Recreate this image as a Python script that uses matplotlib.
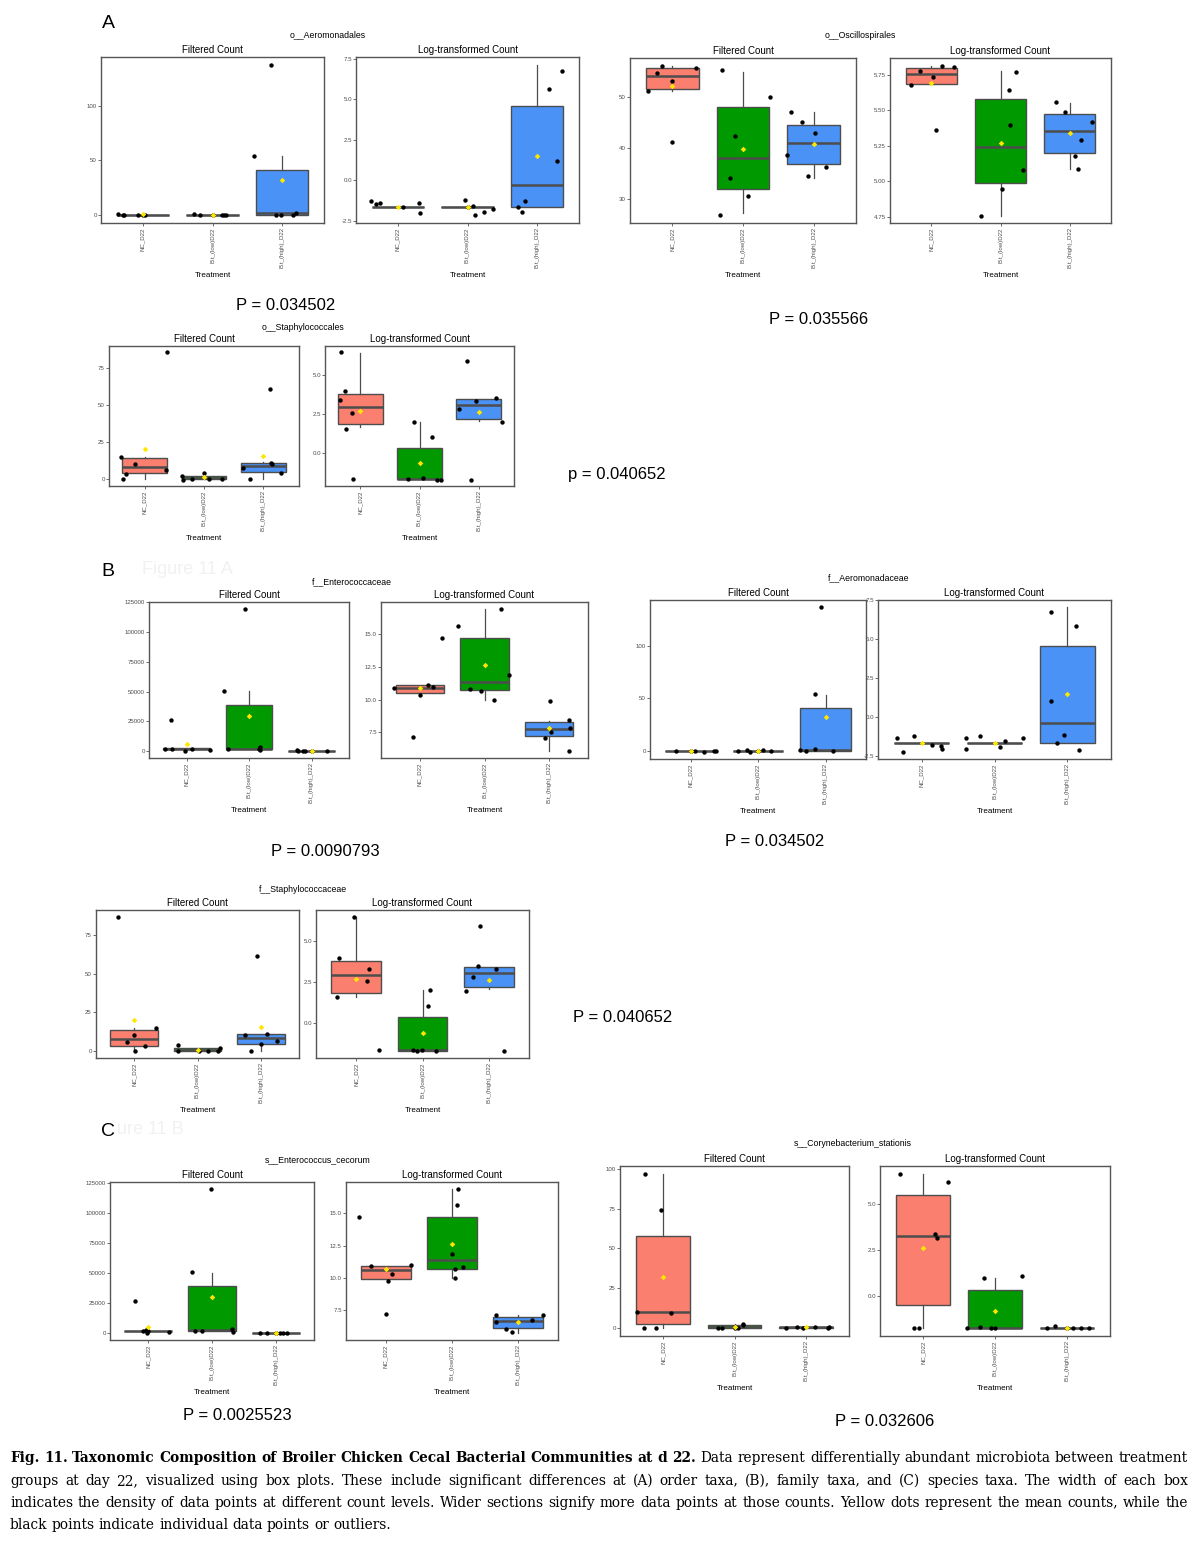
import matplotlib
matplotlib.use('Agg')
import matplotlib.pyplot as plt

W, H = 1200, 1542

# treatment groups, shared by every panel
treatments = ['NC_D22', 'B.t_(low)D22', 'B.t_(high)_D22']
fills = ['#FA7F6F', '#009900', '#4A92F5']

taxa = ['o__Aeromonadales', 'o__Oscillospirales', 'o__Staphylococcales',
        'f__Enterococcaceae', 'f__Aeromonadaceae', 'f__Staphylococcaceae',
        's__Enterococcus_cecorum', 's__Corynebacterium_stationis']
p_values = ['P = 0.034502', 'P = 0.035566', 'p = 0.040652', 'P = 0.0090793',
            'P = 0.034502', 'P = 0.040652', 'P = 0.0025523', 'P = 0.032606']

# box stats per treatment: [whisker low, q1, median, q3, whisker high]
# pts = jittered sample values, jit = horizontal jitter (category units)

# o__Aeromonadales
aeromonadales_raw_box = [[0, 0, 0, 0, 0], [0, 0, 0, 0, 0], [0, 0, 1.2, 40.7, 53.9]]
aeromonadales_raw_mean = [0.3, 0.2, 32.1]
aeromonadales_raw_pts = [[0.6, -0.3, 0.0, 0.0, 0.0, 0.0],
                         [0.6, -0.2, -0.6, -0.4, 0.0, 0.0],
                         [53.9, 137.8, 0.0, 0.0, 0.0, 1.2]]
aeromonadales_raw_jit = [[-0.35, -0.29, -0.27, -0.07, 0.0, 0.03],
                         [-0.26, -0.18, 0.14, 0.16, 0.2, 0.0],
                         [-0.40, -0.16, -0.09, -0.01, 0.15, 0.2]]
aeromonadales_raw_ticks = ['0', '50', '100']
aeromonadales_log_box = [[-1.68] * 5, [-1.68] * 5, [-1.68, -1.68, -0.33, 4.58, 7.13]]
aeromonadales_log_mean = [-1.68, -1.68, 1.48]
aeromonadales_log_pts = [[-1.29, -1.48, -1.40, -1.68, -1.42, -2.03],
                         [-1.21, -1.62, -2.18, -1.95, -1.77, -1.68],
                         [-1.64, -1.99, -1.27, 5.63, 1.19, 6.76]]
aeromonadales_log_jit = [[-0.39, -0.31, -0.26, 0.07, 0.30, 0.32],
                         [-0.04, 0.08, 0.11, 0.24, 0.36, 0.0],
                         [-0.28, -0.22, -0.17, 0.17, 0.29, 0.35]]
aeromonadales_log_ticks = ['-2.5', '0.0', '2.5', '5.0', '7.5']

# o__Oscillospirales
oscillospirales_raw_box = [[51.1, 51.4, 54.0, 55.7, 56.0], [27.1, 31.8, 38.0, 48.0, 54.9],
                           [34.0, 36.7, 40.9, 44.5, 46.9]]
oscillospirales_raw_mean = [52.0, 39.8, 40.7]
oscillospirales_raw_pts = [[51.2, 54.7, 56.1, 53.0, 41.1, 55.7],
                           [55.2, 34.1, 42.2, 30.6, 26.7, 49.9],
                           [46.9, 45.0, 38.6, 42.8, 34.4, 36.3]]
oscillospirales_raw_jit = [[-0.34, -0.22, -0.15, -0.01, 0.0, 0.33],
                           [-0.30, -0.18, -0.11, 0.07, -0.32, 0.38],
                           [-0.32, -0.17, -0.38, 0.02, -0.08, 0.18]]
oscillospirales_raw_ticks = ['30', '40', '50']
oscillospirales_log_box = [[5.684, 5.684, 5.757, 5.799, 5.81], [4.76, 4.989, 5.242, 5.579, 5.78],
                           [5.09, 5.20, 5.354, 5.474, 5.553]]
oscillospirales_log_mean = [5.69, 5.27, 5.338]
oscillospirales_log_pts = [[5.68, 5.78, 5.736, 5.816, 5.804, 5.359],
                           [4.76, 4.95, 5.647, 5.399, 5.773, 5.083],
                           [5.56, 5.488, 5.176, 5.085, 5.289, 5.417]]
oscillospirales_log_jit = [[-0.29, -0.16, 0.02, 0.16, 0.33, 0.07],
                           [-0.28, 0.025, 0.12, 0.135, 0.225, 0.33],
                           [-0.195, -0.065, 0.085, 0.12, 0.165, 0.33]]
oscillospirales_log_ticks = ['4.75', '5.00', '5.25', '5.50', '5.75']

# o__Staphylococcales
staphylococcales_raw_box = [[0, 3.6, 8.2, 13.9, 15.0], [0, 0, 0.4, 1.8, 2.0], [0, 4.3, 8.6, 10.9, 11.4]]
staphylococcales_raw_mean = [20.0, 1.2, 15.5]
staphylococcales_raw_pts = [[14.8, -0.5, 3.0, 9.8, 85.9, 5.7],
                            [2.0, -0.7, -0.5, 3.9, -0.5, -0.5],
                            [7.5, 0.0, 61.1, 10.5, 10.0, 3.9]]
staphylococcales_raw_jit = [[-0.39, -0.37, -0.31, -0.17, 0.37, 0.36],
                            [-0.37, -0.35, -0.2, 0.0, 0.09, 0.3],
                            [-0.35, -0.22, 0.11, 0.12, 0.15, 0.30]]
staphylococcales_raw_ticks = ['0', '25', '50', '75']
staphylococcales_log_box = [[1.65, 1.84, 2.97, 3.76, 6.43], [-1.65, -1.65, -1.62, 0.36, 2.0],
                            [2.07, 2.2, 3.06, 3.44, 3.44]]
staphylococcales_log_mean = [2.71, -0.6, 2.65]
staphylococcales_log_pts = [[6.45, 3.38, 3.97, 1.56, 2.59, -1.65],
                            [2.0, 1.03, -1.67, -1.6, -1.69, -1.69],
                            [5.9, 2.84, 3.33, 3.5, 1.99, -1.69]]
staphylococcales_log_jit = [[-0.33, -0.35, -0.26, -0.24, -0.14, -0.13],
                            [-0.1, 0.22, -0.19, 0.06, 0.3, 0.36],
                            [-0.19, -0.33, -0.04, 0.29, 0.4, -0.13]]
staphylococcales_log_ticks = ['0.0', '2.5', '5.0']

# f__Enterococcaceae
enterococcaceae_raw_box = [[850, 1700, 2000, 2300, 2300], [1400, 1400, 2000, 39000, 50500],
                           [0, 0, 100, 300, 700]]
enterococcaceae_raw_mean = [5600, 29600, 200]
enterococcaceae_raw_pts = [[2000, 2000, 0, 2000, 850, 26400],
                           [50500, 1700, 119400, 3650, 850, 1700],
                           [850, 0, 0, 0, 0, 0]]
enterococcaceae_raw_jit = [[-0.34, -0.24, -0.03, 0.08, 0.37, -0.25],
                           [-0.4, -0.33, -0.07, 0.17, 0.17, 0.16],
                           [-0.23, -0.22, -0.14, -0.10, 0.25, 0.0]]
enterococcaceae_raw_ticks = ['0', '25000', '50000', '75000', '100000', '125000']
enterococcaceae_log_box = [[10.46, 10.46, 10.84, 11.07, 11.07], [9.97, 10.69, 11.35, 14.7, 16.85],
                           [6.12, 7.25, 7.74, 8.27, 8.4]]
enterococcaceae_log_mean = [10.89, 12.61, 7.82]
enterococcaceae_log_pts = [[10.91, 7.16, 10.33, 11.07, 10.96, 14.7],
                           [15.63, 10.81, 10.63, 9.95, 16.88, 11.83],
                           [7.11, 7.56, 8.43, 7.87, 6.09, 9.85]]
enterococcaceae_log_jit = [[-0.4, -0.1, 0.0, 0.13, 0.2, 0.34],
                           [-0.41, -0.23, -0.05, 0.14, 0.25, 0.38],
                           [-0.07, 0.03, 0.3, 0.32, 0.31, 0.02]]
enterococcaceae_log_ticks = ['7.5', '10.0', '12.5', '15.0']

# f__Aeromonadaceae
aeromonadaceae_raw_box = [[0] * 5, [0] * 5, [0, 0, 1.0, 41.1, 53.5]]
aeromonadaceae_raw_mean = [0.2, 0.3, 32.0]
aeromonadaceae_raw_pts = [[0.0, -0.3, -0.9, -0.3, -0.3, 0.0],
                          [-0.6, 0.6, -0.9, 0.6, -0.3, 0.0],
                          [0.6, 0.3, 1.3, 0.0, 54.1, 137.0]]
aeromonadaceae_raw_jit = [[-0.22, 0.07, 0.2, 0.35, 0.38, 0.0],
                          [-0.3, -0.17, -0.12, 0.08, 0.19, 0.0],
                          [-0.38, -0.29, -0.16, 0.11, -0.15, -0.07]]
aeromonadaceae_raw_ticks = ['0', '50', '100']
aeromonadaceae_log_box = [[-1.66] * 5, [-1.66] * 5, [-1.66, -1.66, -0.34, 4.53, 7.04]]
aeromonadaceae_log_mean = [-1.66, -1.66, 1.47]
aeromonadaceae_log_pts = [[-1.32, -2.21, -1.17, -1.79, -1.83, -2.02],
                          [-1.34, -2.02, -1.19, -1.91, -1.51, -1.30],
                          [6.74, 1.06, -1.64, -1.15, 5.81, -2.09]]
aeromonadaceae_log_jit = [[-0.34, -0.25, -0.11, 0.14, 0.27, 0.28],
                          [-0.39, -0.39, -0.2, 0.08, 0.15, 0.39],
                          [-0.23, -0.23, -0.14, -0.04, 0.12, 0.16]]
aeromonadaceae_log_ticks = ['-2.5', '0.0', '2.5', '5.0', '7.5']

# f__Staphylococcaceae
staphylococcaceae_raw_box = [[0, 3.6, 7.9, 13.7, 14.7], [0, 0, 0.5, 2.0, 2.3], [0, 4.5, 8.8, 10.9, 10.9]]
staphylococcaceae_raw_mean = [20.1, 1.1, 15.8]
staphylococcaceae_raw_pts = [[86.5, 5.8, 10.5, 0.0, 3.4, 15.0],
                             [4.3, 0.0, 0.0, 0.0, 0.0, 2.3],
                             [10.5, 0.0, 61.1, 4.5, 10.9, 6.8]]
staphylococcaceae_raw_jit = [[-0.26, -0.11, 0.0, 0.02, 0.18, 0.34],
                             [-0.3, -0.3, 0.03, 0.17, 0.32, 0.35],
                             [-0.25, -0.15, -0.06, 0.0, 0.1, 0.26]]
staphylococcaceae_raw_ticks = ['0', '25', '50', '75']
staphylococcaceae_log_box = [[1.61, 1.83, 2.96, 3.79, 6.47], [-1.67, -1.67, -1.64, 0.36, 2.02],
                             [2.08, 2.2, 3.06, 3.43, 3.43]]
staphylococcaceae_log_mean = [2.7, -0.58, 2.66]
staphylococcaceae_log_pts = [[1.59, 3.95, 6.47, 2.56, 3.29, -1.63],
                             [-1.61, -1.69, -1.61, -1.69, 1.05, 2.02],
                             [1.96, 2.8, 3.47, 5.89, 3.31, -1.67]]
staphylococcaceae_log_jit = [[-0.28, -0.26, -0.03, 0.16, 0.19, 0.34],
                             [-0.15, -0.08, -0.01, 0.2, 0.08, 0.11],
                             [-0.35, -0.24, -0.16, -0.13, 0.11, 0.23]]
staphylococcaceae_log_ticks = ['0.0', '2.5', '5.0']

# s__Enterococcus_cecorum
cecorum_raw_box = [[550, 1200, 1500, 1800, 1800], [1380, 1380, 2480, 38900, 50000], [0, 0, 0, 100, 100]]
cecorum_raw_mean = [5240, 29500, 0]
cecorum_raw_pts = [[26200, 1100, 2200, 0, 550, 1500],
                   [50200, 1400, 1400, 119500, 3300, 550],
                   [0, 0, 0, 0, 0, 0]]
cecorum_raw_jit = [[-0.21, -0.09, -0.04, -0.02, 0.32, 0.0],
                   [-0.32, -0.26, -0.15, -0.01, 0.32, 0.33],
                   [-0.25, -0.13, 0.06, 0.12, 0.18, 0.0]]
cecorum_raw_ticks = ['0', '25000', '50000', '75000', '100000', '125000']
cecorum_log_box = [[9.87, 9.87, 10.57, 10.95, 10.95], [10.0, 10.7, 11.34, 14.69, 16.88],
                   [5.72, 6.08, 6.62, 6.96, 7.09]]
cecorum_log_mean = [10.64, 12.6, 6.55]
cecorum_log_pts = [[14.69, 10.9, 7.16, 9.74, 10.26, 11.0],
                   [15.64, 16.88, 11.86, 10.67, 9.95, 10.82],
                   [7.11, 6.57, 5.98, 5.75, 6.73, 7.09]]
cecorum_log_jit = [[-0.41, -0.23, 0.0, 0.04, 0.1, 0.38],
                   [0.07, 0.09, 0.0, 0.05, 0.04, 0.16],
                   [-0.34, -0.34, -0.18, -0.1, 0.2, 0.38]]
cecorum_log_ticks = ['7.5', '10.0', '12.5', '15.0']

# s__Corynebacterium_stationis
stationis_raw_box = [[0, 2.3, 9.6, 57.9, 96.9], [0, 0, 0.4, 1.5, 2.0], [0, 0, 0.1, 0.2, 0.4]]
stationis_raw_mean = [31.7, 0.6, 0.1]
stationis_raw_pts = [[9.9, -0.4, 96.9, 0.0, 73.8, 9.2],
                     [-0.4, -0.2, 0.0, 2.1, 1.7, 0.0],
                     [0.0, 0.4, -0.4, 0.4, -0.2, 0.4]]
stationis_raw_jit = [[-0.36, -0.27, -0.25, -0.10, -0.03, 0.11],
                     [-0.23, -0.17, 0.0, 0.12, 0.12, 0.05],
                     [-0.28, -0.13, -0.04, 0.13, 0.30, 0.32]]
stationis_raw_ticks = ['0', '25', '50', '75', '100']
stationis_log_box = [[-1.69, -0.47, 3.26, 5.49, 6.6], [-1.69, -1.69, -1.69, 0.34, 1.0], [-1.69] * 5]
stationis_log_mean = [2.64, -0.79, -1.69]
stationis_log_pts = [[6.64, -1.69, -1.69, 3.36, 3.18, 6.2],
                     [-1.69, -1.64, -1.73, 1.0, 1.1, -1.69],
                     [-1.69, -1.62, -1.69, -1.69, -1.69, -1.69]]
stationis_log_jit = [[-0.32, -0.12, -0.06, 0.16, 0.19, 0.35],
                     [-0.39, -0.21, -0.06, -0.15, 0.37, 0.0],
                     [-0.27, -0.16, 0.09, 0.2, 0.31, 0.0]]
stationis_log_ticks = ['0.0', '2.5', '5.0']

caption_bold = 'Fig. 11.  Taxonomic Composition of Broiler Chicken Cecal Bacterial Communities at d 22.'
caption_lines = [
    'Data represent differentially abundant microbiota between treatment',
    'groups at day 22, visualized using box plots. These include significant differences at (A) order taxa, '
    '(B), family taxa, and (C) species taxa. The width of each box',
    'indicates the density of data points at different count levels. Wider sections signify more data points '
    'at those counts. Yellow dots represent the mean counts, while the',
    'black points indicate individual data points or outliers.',
]

panels = [
    (aeromonadales_raw_box, aeromonadales_raw_mean, aeromonadales_raw_pts, aeromonadales_raw_jit, aeromonadales_raw_ticks,
     aeromonadales_log_box, aeromonadales_log_mean, aeromonadales_log_pts, aeromonadales_log_jit, aeromonadales_log_ticks),
    (oscillospirales_raw_box, oscillospirales_raw_mean, oscillospirales_raw_pts, oscillospirales_raw_jit, oscillospirales_raw_ticks,
     oscillospirales_log_box, oscillospirales_log_mean, oscillospirales_log_pts, oscillospirales_log_jit, oscillospirales_log_ticks),
    (staphylococcales_raw_box, staphylococcales_raw_mean, staphylococcales_raw_pts, staphylococcales_raw_jit, staphylococcales_raw_ticks,
     staphylococcales_log_box, staphylococcales_log_mean, staphylococcales_log_pts, staphylococcales_log_jit, staphylococcales_log_ticks),
    (enterococcaceae_raw_box, enterococcaceae_raw_mean, enterococcaceae_raw_pts, enterococcaceae_raw_jit, enterococcaceae_raw_ticks,
     enterococcaceae_log_box, enterococcaceae_log_mean, enterococcaceae_log_pts, enterococcaceae_log_jit, enterococcaceae_log_ticks),
    (aeromonadaceae_raw_box, aeromonadaceae_raw_mean, aeromonadaceae_raw_pts, aeromonadaceae_raw_jit, aeromonadaceae_raw_ticks,
     aeromonadaceae_log_box, aeromonadaceae_log_mean, aeromonadaceae_log_pts, aeromonadaceae_log_jit, aeromonadaceae_log_ticks),
    (staphylococcaceae_raw_box, staphylococcaceae_raw_mean, staphylococcaceae_raw_pts, staphylococcaceae_raw_jit, staphylococcaceae_raw_ticks,
     staphylococcaceae_log_box, staphylococcaceae_log_mean, staphylococcaceae_log_pts, staphylococcaceae_log_jit, staphylococcaceae_log_ticks),
    (cecorum_raw_box, cecorum_raw_mean, cecorum_raw_pts, cecorum_raw_jit, cecorum_raw_ticks,
     cecorum_log_box, cecorum_log_mean, cecorum_log_pts, cecorum_log_jit, cecorum_log_ticks),
    (stationis_raw_box, stationis_raw_mean, stationis_raw_pts, stationis_raw_jit, stationis_raw_ticks,
     stationis_log_box, stationis_log_mean, stationis_log_pts, stationis_log_jit, stationis_log_ticks),
]

# layout in pixels: filtered axes, log axes (x0, y0, x1, y1), taxon title (x, y), P label (x, y)
layout = [
    ((101, 57, 324, 223), (356, 57, 579, 223), (328, 35), (286, 305)),
    ((630, 58, 856, 223), (890, 58, 1111, 223), (860, 36), (819, 320)),
    ((109, 346, 299, 486), (325, 346, 514, 486), (303, 328), (617, 475)),
    ((149, 602, 349, 758), (381, 602, 588, 758), (352, 582), (325, 851)),
    ((650, 600, 866, 759), (878, 600, 1111, 759), (869, 578), (775, 842)),
    ((96, 910, 299, 1058), (316, 910, 529, 1058), (303, 890), (623, 1018)),
    ((110, 1182, 314, 1340), (346, 1182, 558, 1340), (318, 1160), (237, 1416)),
    ((620, 1166, 849, 1336), (880, 1166, 1110, 1336), (853, 1143), (885, 1422)),
]

plt.rcParams['font.family'] = ['Liberation Sans', 'DejaVu Sans']
fig = plt.figure(figsize=(W / 100, H / 100), dpi=100)
fig.patch.set_facecolor('white')


def add_ax(box):
    x0, y0, x1, y1 = box
    return fig.add_axes([x0 / W, 1 - y1 / H, (x1 - x0) / W, (y1 - y0) / H])


def draw_panel(ax, box, means, pts, jit, ticks, title):
    stats = [dict(whislo=b[0], q1=b[1], med=b[2], q3=b[3], whishi=b[4], fliers=[]) for b in box]
    bp = ax.bxp(stats, positions=[1, 2, 3], widths=0.75, patch_artist=True,
                showcaps=False, showfliers=False,
                boxprops=dict(edgecolor='#4d4d4d', linewidth=1.0),
                medianprops=dict(color='#4d4d4d', linewidth=1.8),
                whiskerprops=dict(color='#4d4d4d', linewidth=0.9))
    for patch, c in zip(bp['boxes'], fills):
        patch.set_facecolor(c)
    for i in range(3):
        ax.scatter([i + 1 + j for j in jit[i]], pts[i], s=10, color='black', linewidths=0, zorder=3)
    ax.scatter([1, 2, 3], means, marker='D', s=8, color='#FFE600', linewidths=0, zorder=4)

    # ggplot-like limits: data range plus 5 %
    vals = [v for p in pts for v in p] + [v for b in box for v in b]
    lo, hi = min(vals), max(vals)
    pad = 0.05 * (hi - lo)
    ax.set_ylim(lo - pad, hi + pad)
    ax.set_xlim(0.4, 3.6)
    ax.set_xticks([1, 2, 3])
    ax.set_xticklabels(treatments, rotation=90)
    ax.set_yticks([float(t) for t in ticks])
    ax.set_yticklabels(ticks)
    ax.tick_params(length=2, width=0.5, color='#333333', labelsize=4.4, labelcolor='#4d4d4d', pad=1)
    for s in ax.spines.values():
        s.set_color('#555555')
        s.set_linewidth(1.0)
    ax.set_title(title, fontsize=7, pad=3)
    ax.set_xlabel('Treatment', fontsize=5.8, labelpad=3)


for k in range(len(taxa)):
    d = panels[k]
    raw_box, log_box, title_xy, p_xy = layout[k]
    draw_panel(add_ax(raw_box), d[0], d[1], d[2], d[3], d[4], 'Filtered Count')
    draw_panel(add_ax(log_box), d[5], d[6], d[7], d[8], d[9], 'Log-transformed Count')
    fig.text(title_xy[0] / W, 1 - title_xy[1] / H, taxa[k], ha='center', va='center', fontsize=6.3)
    fig.text(p_xy[0] / W, 1 - p_xy[1] / H, p_values[k], ha='center', va='center', fontsize=12)

# faint leftovers from the original figure
fig.text(142 / W, 1 - 569 / H, 'Figure 11 A', ha='left', va='center', fontsize=13, color='#f1f1f1')
fig.text(117 / W, 1 - 1130 / H, 'ure 11 B', ha='left', va='center', fontsize=13, color='#f1f1f1')

for letter, x, y in [('A', 108, 23), ('B', 108, 571), ('C', 108, 1132)]:
    fig.text(x / W, 1 - y / H, letter, ha='center', va='center', fontsize=14)

# caption, justified word by word
renderer = fig.canvas.get_renderer()
cap_font = 'DejaVu Serif'
line_y = [1458, 1481, 1503, 1525]
x_left, x_right = 10, 1188
base_fs = 10.0


def caption_words(n):
    words = []
    if n == 0:
        words += [(w, 'bold') for w in caption_bold.split()]
    words += [(w, 'normal') for w in caption_lines[n].split()]
    return words


def word_widths(words, fs):
    items = [fig.text(0, 0, w, fontsize=fs, fontweight=wt, family=cap_font) for w, wt in words]
    widths = [t.get_window_extent(renderer).width for t in items]
    for t in items:
        t.remove()
    return widths


# pick one font size so the justified lines keep a normal word gap
fit = []
for n in range(3):
    words = caption_words(n)
    ww = word_widths(words, base_fs)
    gap = 0.3 * base_fs * 100 / 72
    fit.append((x_right - x_left - gap * (len(words) - 1)) / sum(ww))
cap_fs = base_fs * min(fit)
space_px = 0.3 * cap_fs * 100 / 72

for n, y in enumerate(line_y):
    words = caption_words(n)
    widths = word_widths(words, cap_fs)
    if n < 3:
        gap = (x_right - x_left - sum(widths)) / (len(words) - 1)
    else:
        gap = space_px
    x = x_left
    for (w, wt), wd in zip(words, widths):
        fig.text(x / W, 1 - y / H, w, fontsize=cap_fs, fontweight=wt, family=cap_font,
                 ha='left', va='center')
        x += wd + gap

fig.savefig('out.png', dpi=100, facecolor='white')
